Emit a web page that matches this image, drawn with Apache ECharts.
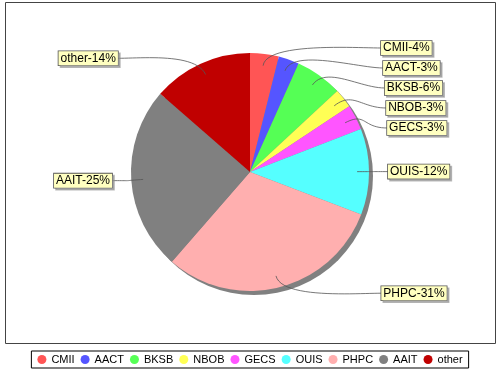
<!DOCTYPE html>
<html>
<head>
<meta charset="utf-8">
<script src="https://cdn.jsdelivr.net/npm/echarts@6/dist/echarts.min.js"></script>
<style>
html,body{margin:0;padding:0;background:#fff;}
#chart{width:500px;height:370px;}
</style>
</head>
<body>
<div id="chart"></div>
<script>
// ---- data ----
var categories = ['CMII', 'AACT', 'BKSB', 'NBOB', 'GECS', 'OUIS', 'PHPC', 'AAIT', 'other'];
var values = [3.9, 2.8, 6.4, 2.6, 3.4, 11.7, 30.6, 25.0, 13.6];
var colors = ['#FF5555', '#5555FF', '#55FF55', '#FFFF55', '#FF55FF', '#55FFFF', '#FFAFAF', '#808080', '#C00000'];

// ---- layout constants ----
var CX = 250, CY = 172, R = 119;
var FONT = 'Liberation Sans, Arial, sans-serif';

var total = values.reduce(function (a, b) { return a + b; }, 0);
var mids = [];
(function () {
  var acc = 0;
  for (var i = 0; i < values.length; i++) {
    mids.push((acc + values[i] / 2) / total * Math.PI * 2);
    acc += values[i];
  }
})();

// label y positions (anchored on slice mid angle, pushed down to avoid overlap)
var labelY = [];
(function () {
  var base = mids.map(function (a) { return CY - 1.05 * R * Math.cos(a); });
  var right = [], left = [];
  mids.forEach(function (a, i) { (Math.sin(a) >= 0 ? right : left).push(i); });
  [right, left].forEach(function (side) {
    side.sort(function (a, b) { return base[a] - base[b]; });
    var prev = -1e9;
    side.forEach(function (i) {
      var y = Math.max(base[i], prev + 20);
      labelY[i] = y; prev = y;
    });
  });
})();

function bezier(p0, p1, p2, p3, n) {
  var pts = [];
  for (var k = 0; k <= n; k++) {
    var t = k / n, u = 1 - t;
    pts.push([
      u * u * u * p0[0] + 3 * u * u * t * p1[0] + 3 * u * t * t * p2[0] + t * t * t * p3[0],
      u * u * u * p0[1] + 3 * u * u * t * p1[1] + 3 * u * t * t * p2[1] + t * t * t * p3[1]
    ]);
  }
  return pts;
}

var pieData = categories.map(function (n, i) { return { name: n, value: values[i] }; });

var chart = echarts.init(document.getElementById('chart'), null, { renderer: 'canvas' });

var option = {
  backgroundColor: '#ffffff',
  animation: false,
  color: colors,
  graphic: [{
    type: 'rect',
    shape: { x: 5.5, y: 2.5, width: 490, height: 341 },
    style: { fill: null, stroke: '#444444', lineWidth: 1 },
    silent: true,
    z: -10
  }],
  legend: {
    data: categories,
    left: 'center',
    bottom: 2,
    orient: 'horizontal',
    icon: 'circle',
    itemWidth: 9,
    itemHeight: 9,
    itemGap: 6,
    padding: [3, 6],
    borderColor: '#000000',
    borderWidth: 1,
    textStyle: { fontSize: 11, fontFamily: FONT, color: '#000000' }
  },
  series: [
    {
      type: 'pie',
      name: 'shadow',
      center: [CX + 4, CY + 4],
      radius: R,
      silent: true,
      z: 1,
      label: { show: false },
      labelLine: { show: false },
      itemStyle: { color: '#808080' },
      data: [{ value: 1, name: '' }]
    },
    {
      type: 'pie',
      name: 'main',
      center: [CX, CY],
      radius: R,
      startAngle: 90,
      clockwise: true,
      z: 2,
      silent: true,
      label: { show: false },
      labelLine: { show: false },
      itemStyle: { borderWidth: 0 },
      data: pieData
    },
    {
      type: 'pie',
      name: 'labels',
      center: [CX, CY],
      radius: R,
      startAngle: 90,
      clockwise: true,
      z: 3,
      silent: true,
      avoidLabelOverlap: false,
      minShowLabelAngle: 0,
      itemStyle: { color: 'rgba(0,0,0,0)', borderWidth: 0 },
      label: {
        show: true,
        position: 'outside',
        formatter: function (p) { return p.name + '-' + Math.round(p.percent) + '%'; },
        fontFamily: FONT,
        fontSize: 12,
        lineHeight: 12,
        color: '#000000',
        backgroundColor: '#FFFFC0',
        borderColor: '#555555',
        borderWidth: 0.8,
        padding: [1, 2],
        shadowColor: 'rgba(140,140,140,0.6)',
        shadowOffsetX: 2,
        shadowOffsetY: 2,
        shadowBlur: 0
      },
      labelLine: {
        show: true,
        length: 10,
        length2: 10,
        smooth: false,
        lineStyle: { color: '#555555', width: 0.8 }
      },
      labelLayout: function (params) {
        var i = params.dataIndex;
        var a = mids[i];
        var s = Math.sin(a), c = Math.cos(a);
        var y = labelY[i];
        var dy = y - CY;
        var off = 138 - 7 * Math.pow(dy / 124, 2);
        var isRight = s >= 0;
        var x = isRight ? CX + off : CX - off;
        var p0 = [CX + 0.9 * R * s, CY - 0.9 * R * c];
        var p1 = [CX + 1.1 * R * s, CY - 1.1 * R * c];
        var p3 = [x, y];
        var p2 = [isRight ? x - 25 : x + 25, y];
        return {
          x: x,
          y: y,
          align: isRight ? 'left' : 'right',
          verticalAlign: 'middle',
          labelLinePoints: bezier(p0, p1, p2, p3, 24)
        };
      },
      data: pieData
    }
  ]
};

chart.setOption(option);
</script>
</body>
</html>
